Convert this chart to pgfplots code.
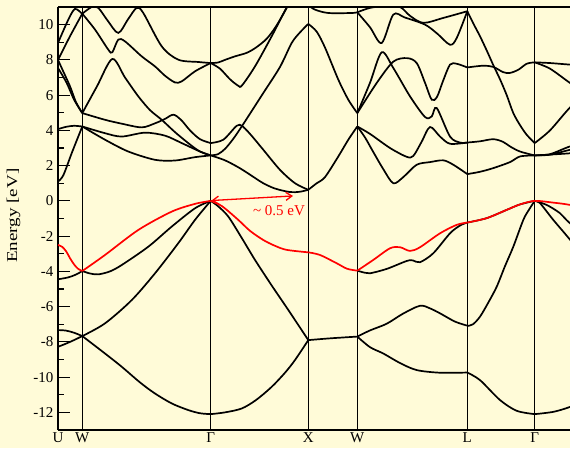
\documentclass[border=0pt]{standalone}
\usepackage{fontspec}
\setmainfont{Liberation Serif}
\usepackage{pgfplots}
\pgfplotsset{compat=1.18}
\usetikzlibrary{arrows.meta}
\definecolor{bgc}{RGB}{255,251,216}
\pgfplotsset{
  band/.style={black, line width=1.7pt, smooth, tension=0.5},
  vb/.style={red, line width=1.7pt, smooth, tension=0.5},
}
\begin{document}
\begin{tikzpicture}
\fill[bgc] (-58pt,-18pt) rectangle (512pt,430pt);
\begin{axis}[
  scale only axis,
  width=512pt, height=423pt,
  xmin=58, xmax=570, ymin=-13, ymax=11,
  axis x line*=box,
  axis y line*=left,
  axis line style={line width=1.8pt},
  xtick={58,82.3,210.7,308.3,357.3,467.3,534.7},
  xticklabels={U,W,Γ,X,W,L,Γ},
  xtick style={draw=none},
  xmajorgrids=true,
  major x grid style={black, line width=0.9pt},
  ytick={-12,-10,-8,-6,-4,-2,0,2,4,6,8,10},
  yticklabels={-12,-10,-8,-6,-4,-2,0,2,4,6,8,10},
  minor ytick={-11,-9,-7,-5,-3,-1,1,3,5,7,9},
  ytick pos=left,
  tick align=inside,
  major tick length=12pt,
  minor tick length=6pt,
  every tick/.style={black, line width=1.2pt},
  ticklabel style={font=\fontsize{15}{17}\selectfont},
  yticklabel style={xshift=-1pt},
  xticklabel style={yshift=-1pt, inner sep=1pt},
  ylabel={\fontsize{15}{17}\selectfont\scalebox{1.27}[1]{Energy [eV]}},
  ylabel style={at={(axis description cs:-0.0869,0.5064)}, anchor=center},
  clip=true,
]
% ---------- U -> W ----------
\addplot[band] coordinates {(58,-8.28)(66,-8.1)(74,-7.9)(82.3,-7.67)};
\addplot[band] coordinates {(58,-7.33)(66,-7.36)(74,-7.48)(82.3,-7.67)};
\addplot[band] coordinates {(58,-4.45)(68.3,-4.34)(76,-4.18)(82.3,-3.98)};
\addplot[band] coordinates {(58,1.1)(63.3,1.45)(72,2.75)(82.3,4.22)};
\addplot[band] coordinates {(58,4.07)(66,4.2)(74,4.26)(82.3,4.22)};
\addplot[band] coordinates {(58,7.54)(66.7,6.69)(74,5.75)(82.3,4.98)};
\addplot[band] coordinates {(58,8.0)(62,7.5)(70,6.5)(76,5.6)(82.3,4.98)};
\addplot[band] coordinates {(58,8.0)(70,9.34)(82.3,10.62)};
\addplot[band] coordinates {(58,8.96)(68.3,10.28)(75,10.89)(82.3,10.6)};
% ---------- W -> Gamma ----------
\addplot[band] coordinates {(82.3,-7.67)(105,-8.66)(121.7,-9.41)(140,-10.3)(155,-10.93)(172,-11.5)(188.3,-11.87)(200,-12.05)(210.7,-12.1)};
\addplot[band] coordinates {(82.3,-7.67)(105,-6.95)(131.7,-5.63)(155,-4.11)(178.3,-2.4)(195,-1.08)(210.7,0)};
\addplot[band] coordinates {(82.3,-3.98)(90,-4.12)(98.3,-4.17)(110,-4.0)(121.7,-3.64)(148.3,-2.6)(171.7,-1.46)(195,-0.42)(210.7,0)};
\addplot[band] coordinates {(82.3,4.22)(105,3.84)(121.7,3.65)(145,3.87)(165,3.7)(181.7,3.28)(200,2.8)(210.7,2.58)};
\addplot[band] coordinates {(82.3,4.22)(105,3.47)(128.3,2.8)(155,2.33)(175,2.29)(195,2.48)(210.7,2.58)};
\addplot[band] coordinates {(82.3,4.98)(97,6.5)(112.3,8.05)(125,7.0)(138.3,5.93)(150,5.15)(161.7,4.6)(175,3.9)(190,3.2)(200,2.8)(210.7,2.58)};
\addplot[band] coordinates {(82.3,4.98)(105,4.6)(121.7,4.38)(141.7,4.17)(155,4.4)(165,4.65)(173.3,4.89)(181,4.6)(190,4.0)(200,3.5)(210.7,3.28)};
\addplot[band] coordinates {(82.3,10.62)(95,9.72)(108.3,8.58)(112.3,8.43)(118.3,9.15)(125,9.05)(141.7,8.2)(155,7.63)(165,7.1)(175,6.72)(181.7,6.78)(195,7.35)(210.7,7.82)};
\addplot[band] coordinates {(82.3,10.62)(91.7,11.0)(98.3,10.95)(108,10.2)(118.3,9.53)(128,10.3)(136.7,10.95)(143.3,10.66)(161.7,8.77)(178.3,8.01)(198.3,7.88)(210.7,7.82)};
% ---------- Gamma -> X ----------
\addplot[band] coordinates {(210.7,-12.1)(225,-12.0)(241.7,-11.78)(256,-11.3)(271.7,-10.55)(285,-9.75)(295,-9.03)(308.3,-7.9)};
\addplot[band] coordinates {(210.7,0)(218,-0.3)(228.3,-0.89)(241.7,-2.1)(255,-3.35)(271.7,-4.8)(288.3,-6.19)(308.3,-7.9)};
\addplot[band] coordinates {(210.7,2.58)(225,2.3)(240,1.85)(255,1.3)(263.3,1.0)(275,0.7)(290,0.5)(300,0.52)(308.3,0.63)};
\addplot[band] coordinates {(210.7,3.28)(223.3,3.47)(236.7,4.26)(242,4.25)(250,3.8)(263.3,2.9)(280,1.76)(295,1.0)(308.3,0.63)};
\addplot[band] coordinates {(210.7,2.58)(218,2.65)(225,2.95)(233,3.5)(241.7,4.22)(263.3,6.12)(280,7.6)(291.7,8.96)(300,9.56)(308.3,10.04)};
\addplot[band] coordinates {(210.7,7.82)(218,7.85)(225,8.0)(235,8.2)(246.7,8.4)(256,8.7)(266.7,9.2)(276,9.9)(286.7,10.95)(289,11.3)};
\addplot[band] coordinates {(210.7,7.82)(220,7.5)(230,6.9)(238.3,6.53)(242,6.55)(255,7.63)(271.7,9.34)(285,10.8)(290,11.3)};
% ---------- X -> W ----------
\addplot[band] coordinates {(308.3,-7.9)(330,-7.8)(357.3,-7.7)};
\addplot[band] coordinates {(308.3,10.04)(316.7,9.6)(325,8.7)(338.3,6.88)(348.3,5.74)(357.3,4.98)};
\addplot[band] coordinates {(308.3,0.63)(316.7,1.0)(325,1.35)(338.3,2.52)(348.3,3.47)(357.3,4.22)};
\addplot[band] coordinates {(308.3,11.1)(315,10.85)(328.3,10.66)(351.7,10.66)(357.3,10.7)};
% ---------- W -> L ----------
\addplot[band] coordinates {(357.3,-7.7)(370,-8.3)(383.3,-8.66)(400,-9.2)(416.7,-9.6)(440,-9.75)(467.3,-9.74)};
\addplot[band] coordinates {(357.3,-7.7)(370,-7.35)(386.7,-6.97)(403,-6.4)(420,-5.95)(430,-6.1)(440,-6.38)(455,-6.85)(467.3,-7.08)};
\addplot[band] coordinates {(357.3,-3.96)(365,-4.08)(370,-4.11)(386.7,-3.86)(406.7,-3.41)(413,-3.38)(420,-3.48)(433.3,-2.97)(450,-1.84)(460,-1.4)(467.3,-1.23)};
\addplot[band] coordinates {(357.3,4.22)(365,3.6)(373,2.8)(383.3,1.8)(393.3,1.0)(403.3,1.35)(416.7,2.05)(430,2.2)(443.3,2.3)(453.3,2.05)(467.3,1.52)};
\addplot[band] coordinates {(357.3,4.22)(370,3.8)(390,3.0)(406.7,2.5)(413.3,2.55)(421.6,3.35)(430,4.19)(440,3.65)(450,3.24)(467.3,3.31)};
\addplot[band] coordinates {(357.3,4.98)(370,6.7)(381.7,8.43)(393.3,7.54)(410,5.93)(425,4.76)(431.7,4.79)(436.7,5.27)(450,3.65)(460,3.31)(467.3,3.31)};
\addplot[band] coordinates {(357.3,4.98)(376.7,6.69)(393.3,7.9)(407,8.1)(416.7,7.82)(425,6.7)(431.7,5.74)(437,5.9)(443,6.8)(450,7.73)(456.7,7.78)(467.3,7.57)};
\addplot[band] coordinates {(357.3,10.7)(370,9.85)(381.7,8.96)(393.3,10.57)(405,10.4)(425,10.0)(437,9.5)(450,8.86)(456.7,9.24)(467.3,10.76)};
\addplot[band] coordinates {(357.3,10.7)(370,10.95)(385,11.05)(400,11.0)(410,10.5)(423.3,10.1)(443.3,10.38)(467.3,10.76)};
% ---------- L -> Gamma ----------
\addplot[band] coordinates {(467.3,-9.74)(480,-10.17)(500,-11.3)(516.7,-11.91)(534.7,-12.1)};
\addplot[band] coordinates {(467.3,-7.1)(473,-7.0)(480,-6.57)(488,-5.8)(496.7,-4.87)(505,-3.7)(513.3,-2.6)(523.3,-1.08)(529,-0.5)(534.7,0)};
\addplot[band] coordinates {(467.3,-1.23)(486.7,-0.98)(506.7,-0.51)(520,-0.2)(534.7,0)};
\addplot[band] coordinates {(467.3,1.52)(480,1.65)(493.3,1.86)(510,2.2)(520,2.52)(534.7,2.58)};
\addplot[band] coordinates {(467.3,3.31)(480,3.38)(493.3,3.5)(503,3.35)(510,3.09)(520,2.8)(534.7,2.58)};
\addplot[band] coordinates {(467.3,7.57)(483.3,7.67)(493.3,7.6)(503.3,7.3)(510,7.26)(518.3,7.44)(526.7,7.78)(534.7,7.86)};
\addplot[band] coordinates {(467.3,10.76)(473,10.1)(480,9.34)(487,8.5)(493.3,7.7)(500,6.9)(506.7,6.0)(513.3,4.98)(520,4.3)(526.7,3.75)(534.7,3.28)};
% ---------- Gamma -> right ----------
\addplot[band] coordinates {(534.7,-12.1)(553.3,-11.97)(570,-11.69)(590,-11.2)};
\addplot[band] coordinates {(534.7,0)(546.7,-0.23)(560,-0.7)(570,-1.27)(600,-2.6)};
\addplot[band] coordinates {(534.7,0)(540,-0.13)(553.3,-1.08)(570,-2.2)(600,-4.3)};
\addplot[band] coordinates {(534.7,2.58)(550,2.65)(570,3.09)(600,3.6)};
\addplot[band] coordinates {(534.7,2.58)(550,2.62)(570,2.9)(600,3.3)};
\addplot[band] coordinates {(534.7,2.58)(570,2.7)(600,2.9)};
\addplot[band] coordinates {(534.7,3.28)(550,4.0)(570,5.3)(600,7.0)};
\addplot[band] coordinates {(534.7,7.86)(550,7.82)(570,7.73)(600,7.6)};
\addplot[band] coordinates {(534.7,7.86)(550,7.5)(570,6.69)(600,5.5)};
% ---------- red band ----------
\addplot[vb] coordinates {(58,-2.5)(62,-2.6)(66,-2.85)(70,-3.25)(74,-3.6)(78,-3.85)(82.3,-3.98)};
\addplot[vb] coordinates {(82.3,-3.98)(105,-3.07)(138.3,-1.65)(171.7,-0.61)(195,-0.17)(210.7,0)};
\addplot[vb] coordinates {(210.7,0)(222,-0.3)(238.3,-1.08)(250,-1.7)(263.3,-2.22)(275,-2.55)(286.7,-2.78)(308.3,-2.92)};
\addplot[vb] coordinates {(308.3,-2.92)(320,-3.07)(336.7,-3.54)(347,-3.85)(357.3,-3.96)};
\addplot[vb] coordinates {(357.3,-3.96)(373.3,-3.35)(390,-2.69)(400,-2.63)(410,-2.84)(420,-2.63)(440,-1.84)(456.7,-1.36)(467.3,-1.23)};
\addplot[vb] coordinates {(467.3,-1.23)(486.7,-0.98)(506.7,-0.51)(520,-0.2)(534.7,0)(553.3,-0.1)(570,-0.23)(600,-0.6)};
% ---------- annotation ----------
\draw[red, line width=1.3pt, <->, >={Straight Barb[length=6pt,width=8pt]}] (axis cs:211.5,0.02) -- (axis cs:293,0.28);
\node[red, font=\fontsize{15}{17}\selectfont] at (axis cs:279,-0.55) {\textasciitilde{} 0.5 eV};
\end{axis}
\pgfresetboundingbox
\path[use as bounding box] (-58pt,-18pt) rectangle (512pt,430pt);
\end{tikzpicture}
\end{document}
